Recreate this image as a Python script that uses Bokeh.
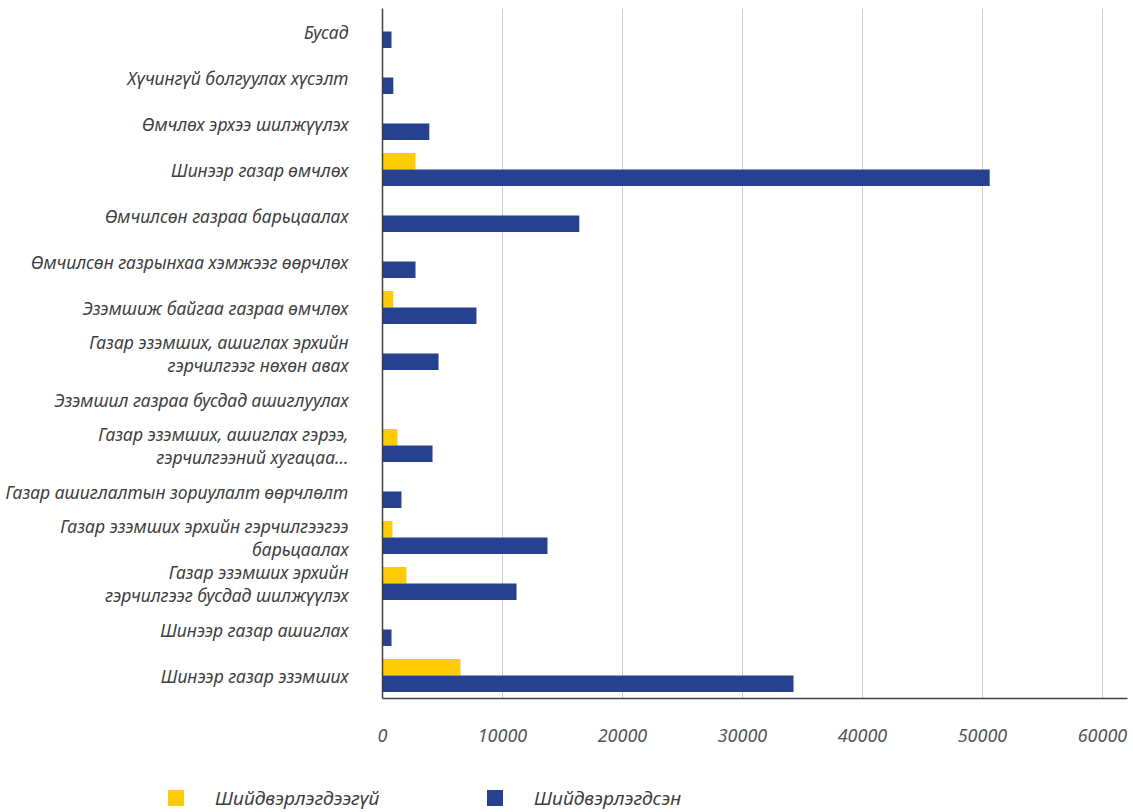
from bokeh.plotting import figure
from bokeh.models import FactorRange, Range1d, FixedTicker, ColumnDataSource, Div
from bokeh.layouts import column
from bokeh.transform import dodge
from bokeh.embed import file_html
from bokeh.resources import INLINE

categories = [
    "Бусад",
    "Хүчингүй болгуулах хүсэлт",
    "Өмчлөх эрхээ шилжүүлэх",
    "Шинээр газар өмчлөх",
    "Өмчилсөн газраа барьцаалах",
    "Өмчилсөн газрынхаа хэмжээг өөрчлөх",
    "Эзэмшиж байгаа газраа өмчлөх",
    "Газар эзэмших, ашиглах эрхийн\nгэрчилгээг нөхөн авах",
    "Эзэмшил газраа бусдад ашиглуулах",
    "Газар эзэмших, ашиглах гэрээ,\nгэрчилгээний хугацаа...",
    "Газар ашиглалтын зориулалт өөрчлөлт",
    "Газар эзэмших эрхийн гэрчилгээгээ\nбарьцаалах",
    "Газар эзэмших эрхийн\nгэрчилгээг бусдад шилжүүлэх",
    "Шинээр газар ашиглах",
    "Шинээр газар эзэмших",
]
unresolved = [0, 0, 0, 2750, 0, 0, 900, 0, 0, 1250, 0, 830, 2000, 0, 6500]
resolved = [750, 900, 3900, 50600, 16400, 2750, 7830, 4670, 0, 4170, 1580, 13750, 11170, 750, 34250]
series_names = ["Шийдвэрлэгдээгүй", "Шийдвэрлэгдсэн"]
x_ticks = [0, 10000, 20000, 30000, 40000, 50000, 60000]

YELLOW = "#FFCB05"
BLUE = "#25418F"
TEXT = "#404040"
FONT = "Noto Sans"

src = ColumnDataSource(dict(cat=categories, u=unresolved, r=resolved))

y_range = FactorRange(factors=list(reversed(categories)), range_padding=0)
p = figure(width=1130, height=752, y_range=y_range, x_range=Range1d(0, 62083),
           output_backend="svg", toolbar_location=None,
           min_border_left=382, min_border_right=3, min_border_top=8, min_border_bottom=54)
p.outline_line_color = None

ry = p.hbar(y=dodge("cat", 0.18, range=p.y_range), right="u", left=0, height=0.36,
            source=src, fill_color=YELLOW, line_color=None)
rb = p.hbar(y=dodge("cat", -0.18, range=p.y_range), right="r", left=0, height=0.36,
            source=src, fill_color=BLUE, line_color=None)

p.ygrid.grid_line_color = None
p.xgrid.grid_line_color = "#CCCCCC"
p.xgrid.grid_line_width = 1
p.xaxis.ticker = FixedTicker(ticks=x_ticks)

for ax in (p.xaxis[0], p.yaxis[0]):
    ax.axis_line_color = "#404040"
    ax.axis_line_width = 1.5
    ax.major_tick_line_color = None
    ax.minor_tick_line_color = None
    ax.major_tick_out = 0
    ax.major_tick_in = 0
    ax.minor_tick_out = 0
    ax.major_label_text_font = FONT
    ax.major_label_text_font_style = "italic"

p.yaxis.major_label_text_font_size = "17.5px"
p.yaxis.major_label_text_color = TEXT
p.yaxis.major_label_standoff = 34
p.yaxis.major_label_text_line_height = 0.97
p.xaxis.major_label_text_font_size = "18px"
p.xaxis.major_label_text_color = "#555555"
p.xaxis.major_label_standoff = 30

def item(color, label, x):
    return (
        f'<div style="position:absolute;left:{x}px;top:38px;width:16px;height:16px;'
        f'background:{color};"></div>'
        f'<div style="position:absolute;left:{x + 47}px;top:33px;white-space:nowrap;'
        f'font-family:\'{FONT}\';font-style:italic;font-size:19px;line-height:26px;'
        f'color:{TEXT};">{label}</div>'
    )

legend_html = ('<div style="position:relative;width:1130px;height:58px;">'
               + item(YELLOW, series_names[0], 168)
               + item(BLUE, series_names[1], 487)
               + '</div>')
legend = Div(text=legend_html, width=1130, height=58, margin=0)

open("out.html", "w").write(file_html(column(p, legend, spacing=0), INLINE))
